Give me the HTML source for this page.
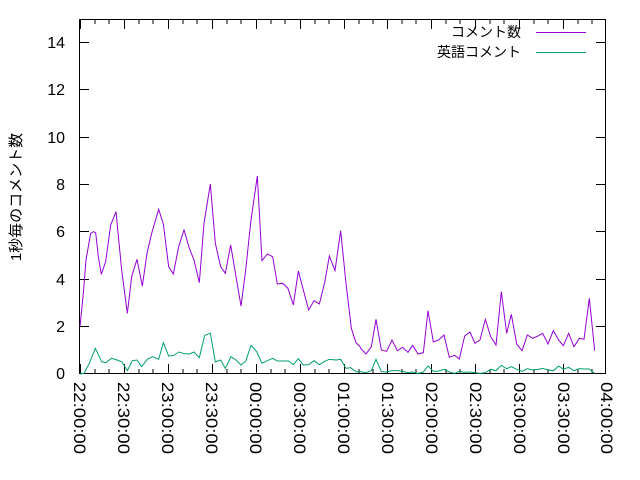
<!DOCTYPE html>
<html><head><meta charset="utf-8"><style>
html,body{margin:0;padding:0;background:#fff;width:640px;height:480px;overflow:hidden}
text{font-family:"Liberation Sans","Noto Sans CJK JP",sans-serif;fill:#000}
</style></head><body>
<svg width="640" height="480" xmlns="http://www.w3.org/2000/svg">
<rect x="0" y="0" width="640" height="480" fill="#fff"/>
<g stroke="#000" stroke-width="1" fill="none">
<rect x="79.5" y="19.5" width="526" height="354"/>
<path d="M80 326.5h9M80 279.5h9M80 231.5h9M80 184.5h9M80 137.5h9M80 89.5h9M80 42.5h9
M605 326.5h-9M605 279.5h-9M605 231.5h-9M605 184.5h-9M605 137.5h-9M605 89.5h-9M605 42.5h-9"/>
<path d="M80.5 373v-9M124.5 373v-9M168.5 373v-9M212.5 373v-9M256.5 373v-9M300.5 373v-9M344.5 373v-9M387.5 373v-9M431.5 373v-9M475.5 373v-9M519.5 373v-9M563.5 373v-9
M80.5 20v9M124.5 20v9M168.5 20v9M212.5 20v9M256.5 20v9M300.5 20v9M344.5 20v9M387.5 20v9M431.5 20v9M475.5 20v9M519.5 20v9M563.5 20v9"/>
<path d="M95 373v-4M109 373v-4M139 373v-4M153 373v-4M183 373v-4M197 373v-4M227 373v-4M241 373v-4M271 373v-4M285 373v-4M315 373v-4M329 373v-4M359 373v-4M373 373v-4M402 373v-4M416 373v-4M446 373v-4M460 373v-4M490 373v-4M504 373v-4M534 373v-4M548 373v-4M578 373v-4M592 373v-4
M95 20v4M109 20v4M139 20v4M153 20v4M183 20v4M197 20v4M227 20v4M241 20v4M271 20v4M285 20v4M315 20v4M329 20v4M359 20v4M373 20v4M402 20v4M416 20v4M446 20v4M460 20v4M490 20v4M504 20v4M534 20v4M548 20v4M578 20v4M592 20v4"/>
</g>
<g font-size="16" text-anchor="end">
<text x="65" y="379">0</text><text x="65" y="332">2</text><text x="65" y="285">4</text>
<text x="65" y="237">6</text><text x="65" y="190">8</text><text x="65" y="143">10</text>
<text x="65" y="95">12</text><text x="65" y="48">14</text>
</g>
<text transform="translate(21,197) rotate(-90)" font-size="15" text-anchor="middle">1秒毎のコメント数</text>
<g font-size="17">
<text transform="translate(74,382) rotate(90)" textLength="72" lengthAdjust="spacingAndGlyphs">22:00:00</text>
<text transform="translate(118,382) rotate(90)" textLength="72" lengthAdjust="spacingAndGlyphs">22:30:00</text>
<text transform="translate(162,382) rotate(90)" textLength="72" lengthAdjust="spacingAndGlyphs">23:00:00</text>
<text transform="translate(206,382) rotate(90)" textLength="72" lengthAdjust="spacingAndGlyphs">23:30:00</text>
<text transform="translate(250,382) rotate(90)" textLength="72" lengthAdjust="spacingAndGlyphs">00:00:00</text>
<text transform="translate(294,382) rotate(90)" textLength="72" lengthAdjust="spacingAndGlyphs">00:30:00</text>
<text transform="translate(338,382) rotate(90)" textLength="72" lengthAdjust="spacingAndGlyphs">01:00:00</text>
<text transform="translate(382,382) rotate(90)" textLength="72" lengthAdjust="spacingAndGlyphs">01:30:00</text>
<text transform="translate(426,382) rotate(90)" textLength="72" lengthAdjust="spacingAndGlyphs">02:00:00</text>
<text transform="translate(470,382) rotate(90)" textLength="72" lengthAdjust="spacingAndGlyphs">02:30:00</text>
<text transform="translate(514,382) rotate(90)" textLength="72" lengthAdjust="spacingAndGlyphs">03:00:00</text>
<text transform="translate(558,382) rotate(90)" textLength="72" lengthAdjust="spacingAndGlyphs">03:30:00</text>
<text transform="translate(601,382) rotate(90)" textLength="72" lengthAdjust="spacingAndGlyphs">04:00:00</text>
</g>
<g font-size="14" text-anchor="end">
<text x="521" y="37">コメント数</text>
<text x="521" y="57">英語コメント</text>
</g>
<path d="M536 32.5h50" stroke="#9400d3"/>
<path d="M536 52.5h50" stroke="#009e73"/>
<g transform="translate(60,160) scale(0.33333)" fill="none">
<polyline vector-effect="non-scaling-stroke" stroke="#9400d3" stroke-width="1" points="60,500 70,400 78,300 92,220 100,215 107,218 115,290 124,343 137,305 152,195 168,155 185,330 202,460 215,350 231,298 247,378 261,280 275,220 296,148 310,192 326,320 340,342 356,260 372,210 388,265 402,300 418,368 432,190 451,72 466,250 482,320 496,340 512,255 528,350 543,438 557,330 573,180 592,48 606,302 622,282 638,290 652,372 668,370 684,385 700,435 715,333 730,390 746,450 762,422 778,432 794,368 808,288 825,332 842,212 858,370 874,505 888,548 900,560"/>
<polyline vector-effect="non-scaling-stroke" stroke="#009e73" stroke-width="1" points="60,642 72,640 88,610 106,565 125,605 137,608 155,595 171,600 186,606 202,632 217,602 231,600 245,620 262,598 278,590 296,598 310,548 326,588 340,587 357,576 372,581 388,582 402,576 418,593 434,526 451,520 466,606 482,600 496,625 513,590 528,600 543,615 557,604 573,556 590,575 606,610 622,602 638,595 652,603 686,603 700,614 715,596 730,615 746,614 762,602 778,614 794,604 808,598 828,600 842,598 858,625 872,623 888,635 900,636"/>
</g>
<g transform="translate(340,160) scale(0.33333)" fill="none">
<polyline vector-effect="non-scaling-stroke" stroke="#9400d3" stroke-width="1" points="60,560 62,565 78,582 94,560 108,478 124,570 140,574 156,540 172,572 188,562 204,577 218,556 234,582 250,578 264,452 280,546 296,540 312,525 328,592 344,586 358,597 374,528 390,516 405,550 420,540 436,478 452,530 468,555 484,395 500,520 514,463 530,552 546,572 562,525 578,535 594,528 608,520 624,552 640,512 656,540 670,557 686,520 702,560 718,535 732,538 748,415 764,572"/>
<polyline vector-effect="non-scaling-stroke" stroke="#009e73" stroke-width="1" points="60,636 62,635 78,638 94,632 108,598 124,635 140,636 156,632 172,632 188,634 204,638 218,636 234,640 250,636 264,618 280,634 296,633 312,628 328,636 344,640 358,634 374,637 390,636 405,638 420,640 436,638 452,628 468,632 484,616 500,626 514,620 530,628 546,634 562,626 578,630 594,628 608,625 624,630 640,632 656,618 670,628 686,622 702,632 718,626 732,627 748,627 764,640"/>
</g>
</svg>
</body></html>
